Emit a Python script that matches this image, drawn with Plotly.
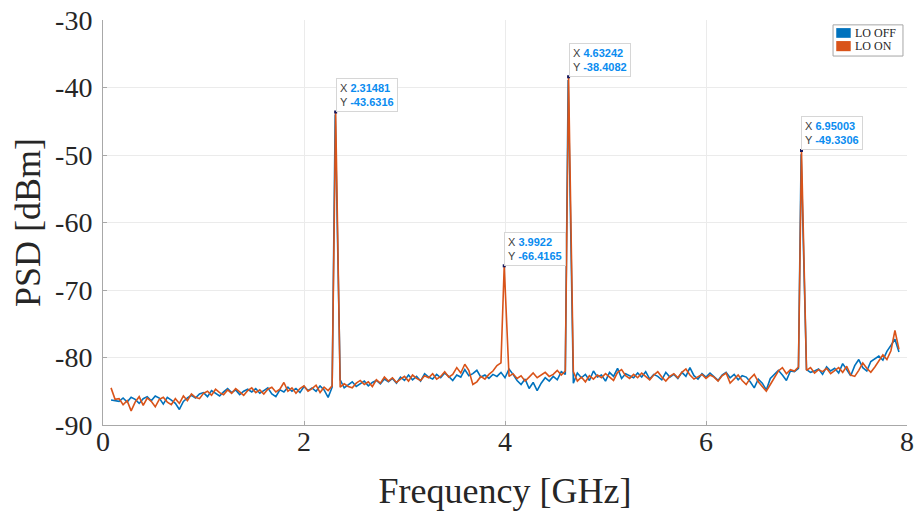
import numpy as np
import plotly.graph_objects as go

# Frequency grid of the noise floor (GHz) and the spur frequencies
grid_start, grid_step, grid_count = 0.08, 0.04, 197
freq_grid = np.round(grid_start + grid_step * np.arange(grid_count), 2)

# Noise floor, LO OFF (dBm)
floor_off = [
    -86.3, -86.4, -86.5, -86.0, -86.6, -85.9, -86.2, -86.8, -86.1, -85.8,
    -86.4, -85.7, -86.0, -86.9, -85.9, -86.3, -86.8, -87.7, -86.5, -86.0,
    -85.6, -86.0, -85.4, -85.2, -85.8, -84.9, -85.3, -85.7, -85.1, -84.6,
    -85.2, -84.8, -85.5, -85.0, -84.7, -85.1, -84.6, -85.3, -84.9, -84.5,
    -85.4, -85.8, -84.8, -85.1, -84.4, -85.0, -84.6, -85.2, -84.3, -84.9,
    -84.5, -85.0, -84.2, -84.8, -85.9, -84.4, -84.0, -83.3, -84.5, -84.1,
    -83.6, -84.3, -83.9, -83.5, -84.2, -83.7, -83.4, -83.9, -83.2, -83.6,
    -83.1, -83.8, -82.9, -83.4, -82.6, -83.3, -82.8, -83.5, -82.4, -82.9,
    -83.2, -82.5, -83.0, -82.3, -82.8, -83.4, -82.6, -82.9, -81.8, -82.7,
    -82.4, -81.9, -82.9, -82.6, -83.1, -82.5, -82.8, -82.2, -83.0, -81.7,
    -82.5, -83.4, -84.0, -83.2, -84.6, -83.7, -84.9, -83.8, -83.0, -83.5,
    -82.8, -83.3, -82.1, -82.5, -82.4, -83.8, -82.3, -83.0, -82.5, -83.4,
    -82.0, -82.9, -82.6, -83.5, -82.2, -82.8, -81.6, -83.1, -82.4, -82.7,
    -83.0, -82.3, -82.9, -82.1, -83.2, -82.5, -82.8, -83.3, -82.2, -82.9,
    -82.5, -83.1, -82.2, -82.8, -81.5, -82.7, -83.2, -82.4, -82.9, -82.3,
    -82.8, -83.4, -82.6, -82.2, -83.0, -82.5, -83.3, -82.7, -82.9, -83.6,
    -84.5, -83.2, -83.8, -84.8, -83.1, -82.5, -81.9, -82.6, -83.4, -82.0,
    -82.1, -81.6, -81.9, -81.8, -82.2, -82.0, -81.7, -82.5, -81.4, -82.0,
    -81.6, -82.3, -80.9, -81.8, -82.7, -81.2, -80.3, -81.5, -82.0, -80.6,
    -80.2, -79.8, -80.4, -79.1, -78.2, -77.3, -79.2,
]

# Noise floor, LO ON (dBm)
floor_on = [
    -84.5, -86.2, -86.1, -87.0, -86.4, -87.9, -86.6, -85.8, -87.1, -86.0,
    -86.5, -87.3, -86.2, -85.9, -86.6, -87.0, -86.1, -86.8, -85.7, -86.4,
    -85.4, -85.9, -86.1, -85.3, -85.0, -85.6, -84.7, -85.2, -85.5, -84.8,
    -85.3, -84.6, -85.1, -85.6, -84.9, -84.5, -85.2, -84.8, -85.4, -84.7,
    -84.4, -85.1, -84.7, -83.7, -85.0, -84.5, -85.3, -84.6, -84.2, -85.0,
    -84.6, -84.1, -85.2, -84.4, -84.9, -84.2, -84.0, -84.4, -83.9, -84.3,
    -84.5, -83.8, -83.4, -84.0, -83.6, -84.3, -83.3, -83.8, -82.9, -83.5,
    -83.0, -83.7, -83.2, -82.8, -83.5, -82.6, -83.1, -83.4, -82.7, -83.0,
    -82.4, -83.2, -82.8, -82.1, -82.9, -82.5, -81.5, -82.3, -81.0, -81.9,
    -84.0, -83.6, -82.8, -83.2, -82.5, -82.0, -81.2, -80.8, -81.0, -82.8,
    -82.4, -83.1, -82.7, -83.5, -82.9, -82.3, -83.0, -82.6, -82.2, -82.8,
    -82.5, -81.9, -82.6, -82.0, -82.4, -82.1, -83.5, -82.9, -83.6, -82.7,
    -83.2, -82.6, -83.0, -82.4, -82.9, -83.4, -82.2, -81.8, -82.7, -83.1,
    -82.5, -83.0, -82.3, -82.8, -83.3, -82.6, -82.1, -82.9, -83.5, -82.8,
    -82.4, -83.0, -82.2, -81.7, -82.6, -83.2, -82.8, -82.5, -83.1, -82.6,
    -82.9, -83.5, -82.7, -82.3, -83.8, -83.2, -82.6, -83.4, -84.0, -83.1,
    -82.5, -83.6, -84.3, -85.0, -84.0, -83.1, -82.0, -81.5, -82.4, -81.8,
    -82.0, -81.4, -81.7, -81.9, -81.5, -82.3, -81.8, -82.1, -81.6, -82.4,
    -82.0, -81.5, -82.2, -81.3, -82.6, -82.8, -81.9, -80.8, -81.6, -82.2,
    -81.4, -80.5, -79.6, -80.3, -79.0, -76.0, -78.8,
]

# Spurs (GHz, dBm)
spur_freq_on = [2.31481, 3.9922, 4.63242, 6.95003]
spur_psd_on = [-43.6316, -66.4165, -38.4082, -49.3306]
spur_freq_off = [2.3105, 4.6285, 6.9465]
spur_psd_off = [-44.0, -38.9, -49.9]

# Axis ticks
x_ticks = [0, 2, 4, 6, 8]
y_ticks = [-90, -80, -70, -60, -50, -40, -30]

BLUE = "#0072BD"
ORANGE = "#D95319"
SERIF = "Liberation Serif"
TEXT = "#262626"


def merge(grid, floor, sf, sp, gap=0.025):
    """Insert spur samples into the floor, dropping grid bins that collide."""
    f = np.asarray(grid, float)
    v = np.asarray(floor, float)
    keep = np.ones(len(f), bool)
    for s in sf:
        keep &= np.abs(f - s) >= gap
    fx = np.concatenate([f[keep], sf])
    vx = np.concatenate([v[keep], sp])
    order = np.argsort(fx)
    return fx[order], vx[order]


f_off, p_off = merge(freq_grid, floor_off, spur_freq_off, spur_psd_off)
f_on, p_on = merge(freq_grid, floor_on, spur_freq_on, spur_psd_on)

fig = go.Figure()
fig.add_trace(go.Scatter(x=f_off, y=p_off, mode="lines", name="LO OFF",
                         line=dict(color=BLUE, width=1.6), showlegend=False))
fig.add_trace(go.Scatter(x=f_on, y=p_on, mode="lines", name="LO ON",
                         line=dict(color=ORANGE, width=1.6), showlegend=False))
# data-tip markers
fig.add_trace(go.Scatter(x=spur_freq_on, y=spur_psd_on, mode="markers",
                         marker=dict(color="#1a1a5e", size=3, symbol="square"),
                         showlegend=False, hoverinfo="skip"))

# data tips
for fx, py in zip(spur_freq_on, spur_psd_on):
    fig.add_annotation(
        x=fx, y=py, xref="x", yref="y", xanchor="left", yanchor="bottom",
        showarrow=False, align="left",
        text=(f"<span style='color:#404040'>X</span> "
              f"<span style='color:#0a8cf0'><b>{fx:g}</b></span><br>"
              f"<span style='color:#404040'>Y</span> "
              f"<span style='color:#0a8cf0'><b>{py:g}</b></span>"),
        font=dict(family="Liberation Sans", size=11),
        bgcolor="rgba(255,255,255,0.92)", bordercolor="#d6d6d6",
        borderwidth=1, borderpad=3,
    )

# legend box
fig.add_shape(type="rect", xref="paper", yref="paper",
              x0=0.908, x1=0.995, y0=0.911, y1=0.988,
              line=dict(color="#a6a6a6", width=1), fillcolor="white")
for (y0, y1, yt), col, lab in [((0.956, 0.980, 0.968), BLUE, "LO OFF"),
                               ((0.923, 0.948, 0.936), ORANGE, "LO ON")]:
    fig.add_shape(type="rect", xref="paper", yref="paper",
                  x0=0.912, x1=0.930, y0=y0, y1=y1,
                  line=dict(width=0), fillcolor=col)
    fig.add_annotation(x=0.933, y=yt, xref="paper", yref="paper",
                       xanchor="left", yanchor="middle", showarrow=False,
                       text=lab, font=dict(family=SERIF, size=12, color=TEXT))

axis_common = dict(
    showgrid=True, gridcolor="#ebebeb", gridwidth=1,
    showline=True, linecolor="#a8a8a8", linewidth=1,
    ticks="inside", ticklen=4, tickcolor="#a8a8a8",
    zeroline=False, automargin=False,
    tickfont=dict(family=SERIF, size=28, color=TEXT),
)
fig.update_xaxes(range=[0, 8], tickvals=x_ticks,
                 ticktext=[str(v) for v in x_ticks],
                 ticklabelstandoff=-9,
                 title=dict(text="Frequency [GHz]", standoff=22,
                            font=dict(family=SERIF, size=36, color=TEXT)),
                 **axis_common)
fig.update_yaxes(range=[-90, -30], tickvals=y_ticks,
                 ticktext=[str(v) for v in y_ticks],
                 ticklabelstandoff=4,
                 title=dict(text="PSD [dBm]", standoff=3,
                            font=dict(family=SERIF, size=36, color=TEXT)),
                 **axis_common)

fig.update_layout(
    width=916, height=513,
    margin=dict(l=103, r=9, t=20, b=88),
    plot_bgcolor="white", paper_bgcolor="white",
)

fig.write_html("out.html")
